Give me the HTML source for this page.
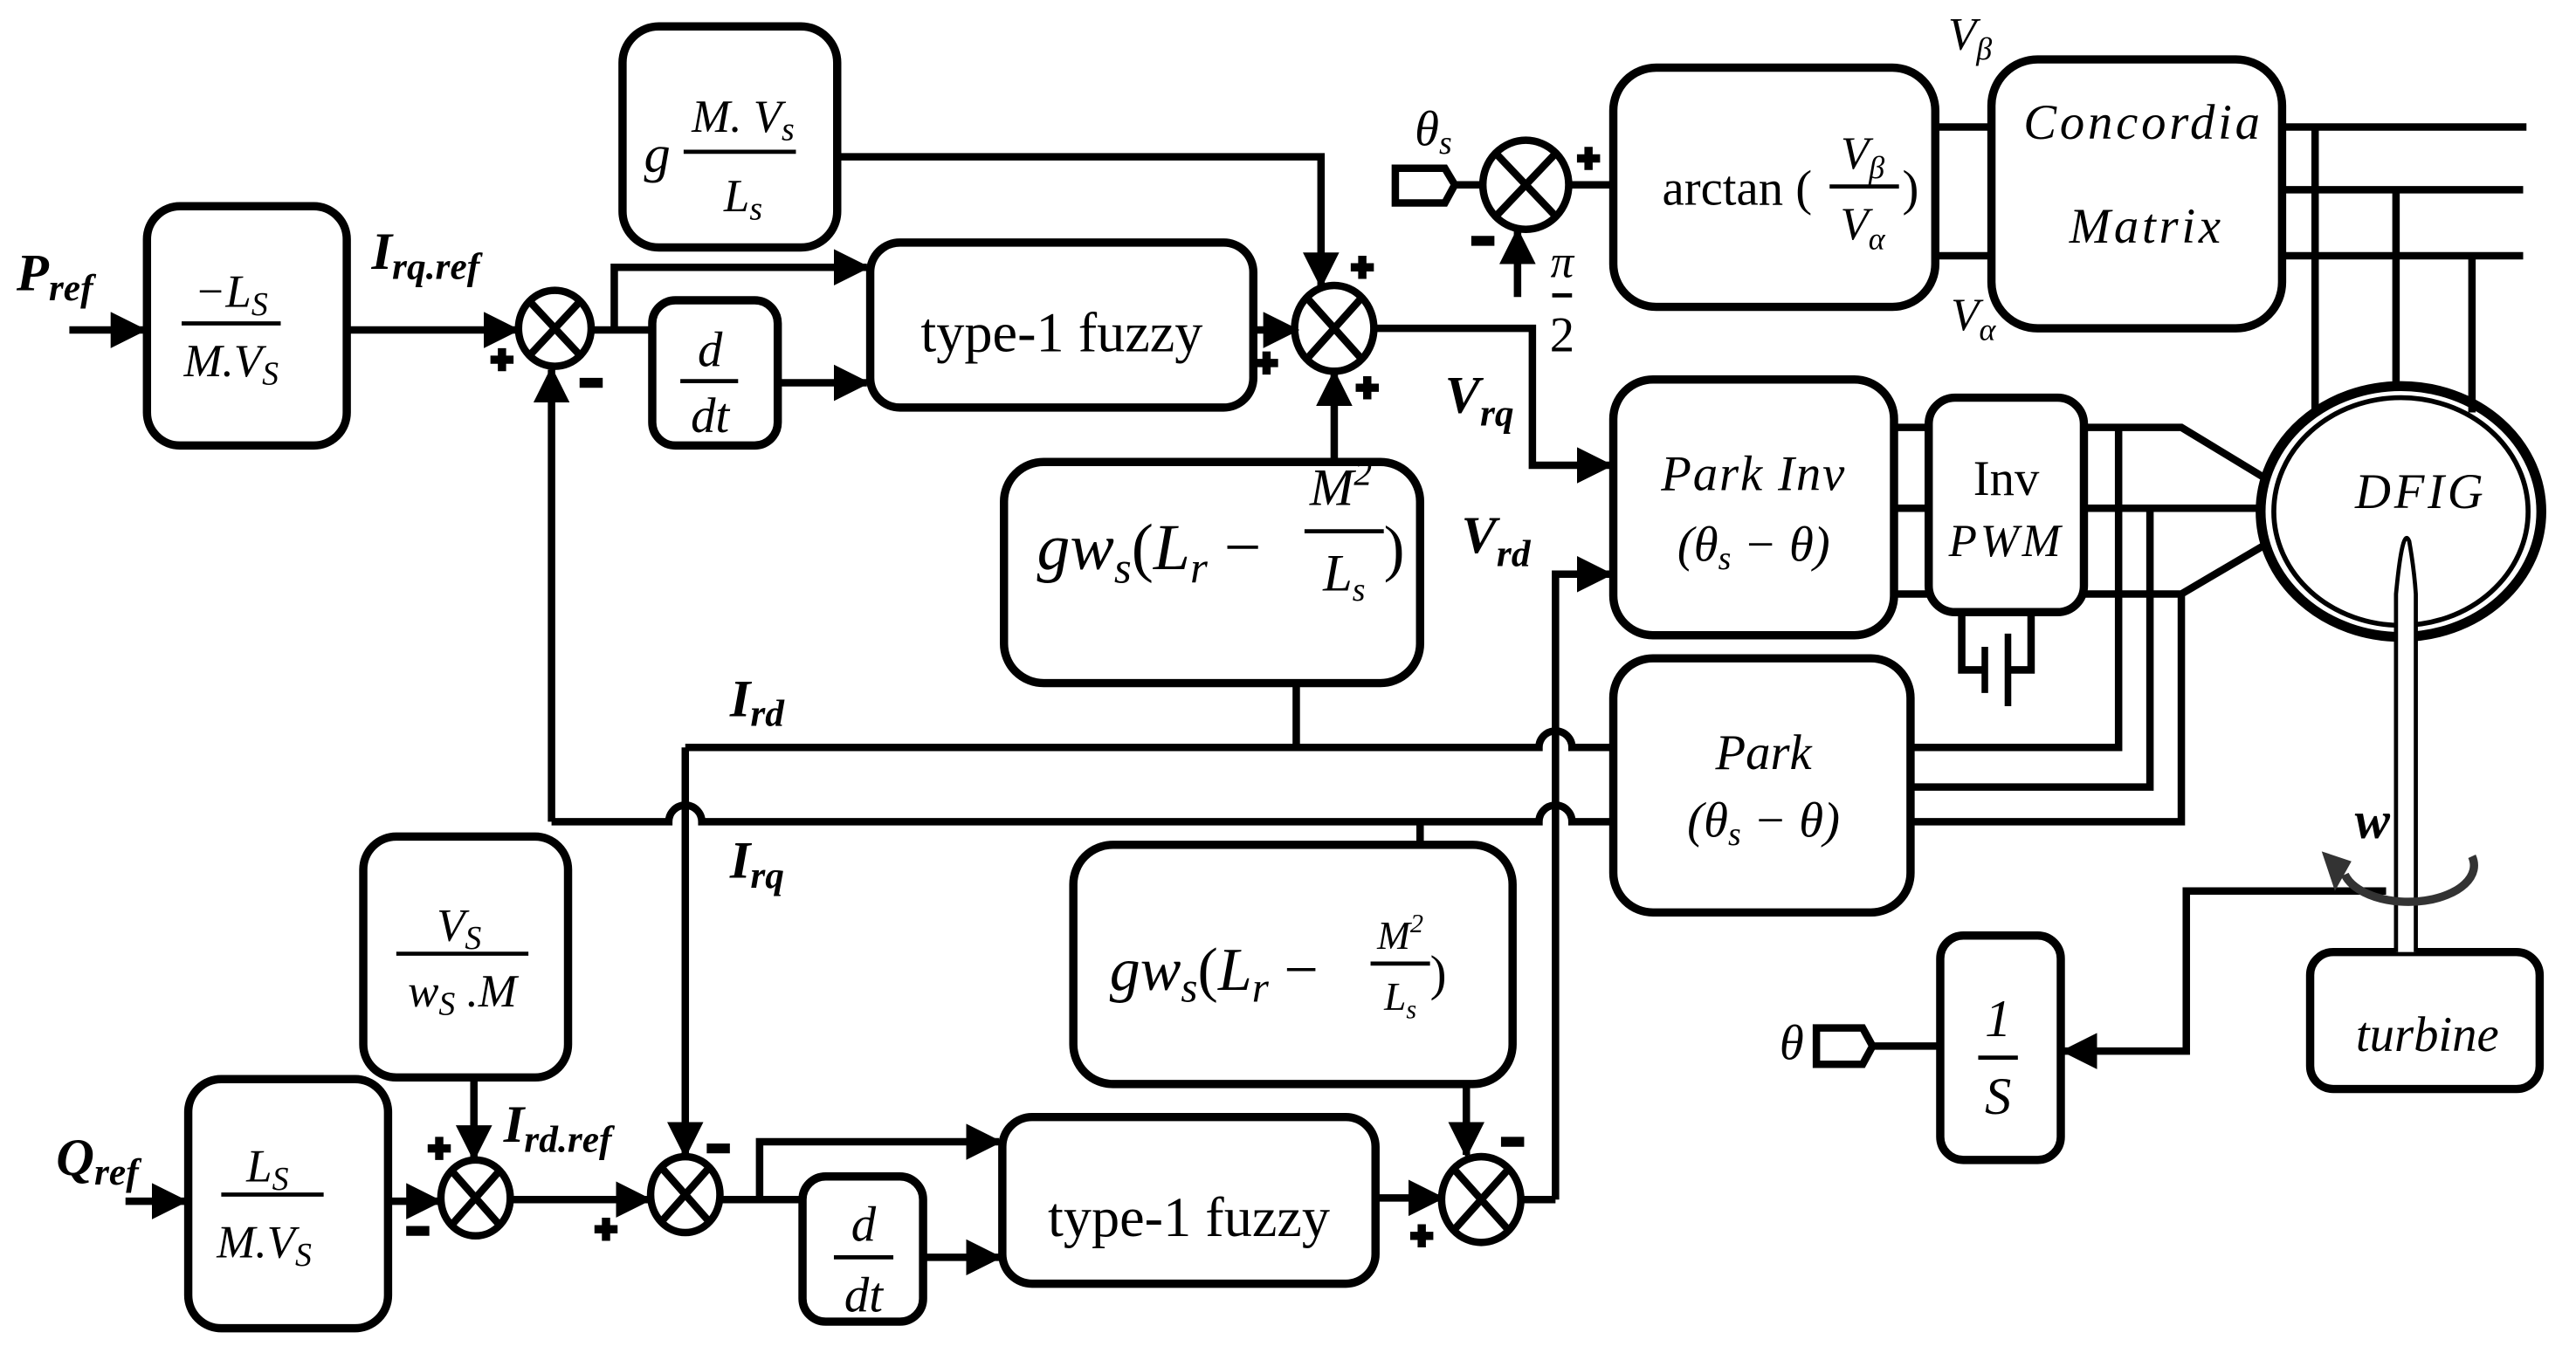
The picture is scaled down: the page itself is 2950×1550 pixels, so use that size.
<!DOCTYPE html>
<html><head><meta charset="utf-8"><style>
html,body{margin:0;padding:0;background:#fff}
svg{display:block}
text{font-family:"Liberation Serif",serif;fill:#000}
.i{font-style:italic}
.b{font-weight:bold;font-style:italic}
</style></head><body>
<svg width="2950" height="1550" viewBox="0 0 1560 820" preserveAspectRatio="none" xmlns="http://www.w3.org/2000/svg">
<defs>
<marker id="a" markerUnits="userSpaceOnUse" markerWidth="22" markerHeight="22" refX="20" refY="11" orient="auto">
<path d="M0,0 L22,11 L0,22 Z" fill="#000"/></marker>
</defs>
<g fill="none" stroke="#000" stroke-width="5">
<rect x="89" y="125" width="121" height="145" rx="20"/>
<rect x="377" y="16" width="130" height="134" rx="22"/>
<rect x="395" y="182" width="76" height="88" rx="14"/>
<rect x="527" y="147" width="232" height="100" rx="18"/>
<rect x="608" y="280" width="252" height="134" rx="24"/>
<rect x="977" y="41" width="195" height="145" rx="26"/>
<rect x="1206" y="36" width="176" height="163" rx="28"/>
<rect x="977" y="230" width="170" height="155" rx="24"/>
<rect x="1168" y="241" width="94" height="130" rx="16"/>
<rect x="977" y="399" width="180" height="154" rx="24"/>
<rect x="220" y="507" width="124" height="146" rx="20"/>
<rect x="650" y="512" width="266" height="145" rx="24"/>
<rect x="114" y="654" width="121" height="151" rx="20"/>
<rect x="486" y="713" width="73" height="88" rx="14"/>
<rect x="607" y="677" width="226" height="101" rx="18"/>
<rect x="1175" y="567" width="73" height="136" rx="14"/>
<rect x="1399" y="577" width="139" height="83" rx="14"/>
</g>
<g fill="none" stroke="#000" stroke-width="4.5">
<ellipse cx="336" cy="199" rx="22" ry="23"/>
<ellipse cx="808" cy="199" rx="24" ry="26"/>
<ellipse cx="924" cy="112" rx="26" ry="27"/>
<ellipse cx="288" cy="726" rx="21" ry="23"/>
<ellipse cx="415" cy="724" rx="21" ry="23"/>
<ellipse cx="897" cy="727" rx="24" ry="26"/>
<path d="M322,184L350,214M350,184L322,214"/>
<path d="M791,180L825,218M825,180L791,218"/>
<path d="M905,92L943,132M943,92L905,132"/>
<path d="M273,709L303,743M303,709L273,743"/>
<path d="M400,707L430,741M430,707L400,741"/>
<path d="M880,708L914,746M914,708L880,746"/>
<path d="M42,200H87" marker-end="url(#a)"/>
<path d="M210,200H313" marker-end="url(#a)"/>
<path d="M358,200H395"/>
<path d="M372,200V162H525" marker-end="url(#a)"/>
<path d="M471,232H525" marker-end="url(#a)"/>
<path d="M759,200H785" marker-end="url(#a)"/>
<path d="M507,95H800V173" marker-end="url(#a)"/>
<path d="M808,280V226" marker-end="url(#a)"/>
<path d="M832,199H928V282H975" marker-end="url(#a)"/>
<path d="M919,180V140" marker-end="url(#a)"/>
<path d="M881,112H898"/>
<path d="M950,112H977"/>
<path d="M334,498V224" marker-end="url(#a)"/>
<path d="M334,498H405A10,10 0 0 1 425,498H932A10,10 0 0 1 952,498H977"/>
<path d="M415,453H932A10,10 0 0 1 952,453H977"/>
<path d="M415,453V700" marker-end="url(#a)"/>
<path d="M785,414V453"/>
<path d="M860,498V512"/>
<path d="M942,727V348H975" marker-end="url(#a)"/>
<path d="M76,728H112" marker-end="url(#a)"/>
<path d="M235,728H266" marker-end="url(#a)"/>
<path d="M287,653V702" marker-end="url(#a)"/>
<path d="M309,727H393" marker-end="url(#a)"/>
<path d="M436,727H486"/>
<path d="M460,727V692H605" marker-end="url(#a)"/>
<path d="M559,762H605" marker-end="url(#a)"/>
<path d="M833,726H873" marker-end="url(#a)"/>
<path d="M888,657V700" marker-end="url(#a)"/>
<path d="M921,727H942"/>
<path d="M1172,77H1206M1172,155H1206"/>
<path d="M1382,77H1530M1382,115H1528M1382,155H1528"/>
<path d="M1402,77V248M1451,115V236M1497,155V250"/>
<path d="M1147,259H1168M1147,308H1168M1147,360H1168"/>
<path d="M1262,259H1321L1372,290M1262,308H1370M1262,360H1321L1372,330"/>
<path d="M1283,259V453H1157M1302,308V477H1157M1321,360V498H1157"/>
<path d="M1188,371V406H1202M1230,371V406H1216"/>
<path d="M1445,540H1324V637H1250" marker-end="url(#a)"/>
<path d="M1175,634H1134"/>
</g>
<g stroke="#000" fill="none">
<path d="M1202,392V420M1216,384V428" stroke-width="4"/>
<ellipse cx="1454" cy="310" rx="85" ry="76" stroke-width="6"/>
<ellipse cx="1454" cy="310" rx="77" ry="69" stroke-width="3"/>
<path d="M1451,577V360Q1455,318 1459,328Q1462,345 1463,360V577" stroke-width="2.5" fill="#fff"/>
<path d="M1497,519A36,20 0 0 1 1420,530" stroke="#333" stroke-width="5"/>
</g>
<path d="M1406,516L1424,522L1414,540Z" fill="#333"/>
<path d="M845,102H875L881,112L875,123H845Z" fill="none" stroke="#000" stroke-width="4.5"/>
<path d="M1100,623H1128L1134,634L1128,645H1100Z" fill="none" stroke="#000" stroke-width="4.5"/>
<g stroke="#000" stroke-width="2.5">
<path d="M110,196H170M414,92H482M412,231H447M790,322H838M1108,113H1150M240,578H320M134,724H196M505,762H541M1198,641H1222M830,584H866M940,179H952"/>
</g>
<g stroke="#000" stroke-width="5" fill="none">
<path d="M297,218h14M304,211v14"/>
<path d="M818,162h14M825,155v14"/>
<path d="M760,220h14M767,213v14"/>
<path d="M821,235h14M828,228v14"/>
<path d="M955,96h14M962,89v14"/>
<path d="M259,696h14M266,689v14"/>
<path d="M360,745h14M367,738v14"/>
<path d="M854,749h14M861,742v14"/>
<path d="M351,232h14M891,146h14M246,746h14M428,696h14M909,692h14" stroke-width="6"/>
</g>
<g font-size="32">
<text x="10" y="176" class="b">P<tspan font-size="23" dy="6">ref</tspan></text>
<text x="225" y="163" class="b">I<tspan font-size="23" dy="6">rq.ref</tspan></text>
<text x="442" y="434" class="b">I<tspan font-size="23" dy="6">rd</tspan></text>
<text x="442" y="532" class="b">I<tspan font-size="23" dy="6">rq</tspan></text>
<text x="875" y="250" class="b">V<tspan font-size="23" dy="8">rq</tspan></text>
<text x="885" y="335" class="b">V<tspan font-size="23" dy="8">rd</tspan></text>
<text x="34" y="712" class="b">Q<tspan font-size="23" dy="6">ref</tspan></text>
<text x="305" y="692" class="b">I<tspan font-size="23" dy="6">rd.ref</tspan></text>
<text x="1426" y="508" class="b">w</text>
</g>
<g font-size="28" class="i" text-anchor="middle">
<text x="140" y="186">−L<tspan font-size="20" dy="5">S</tspan></text>
<text x="140" y="228">M.V<tspan font-size="20" dy="5">S</tspan></text>
<text x="450" y="80">M. V<tspan font-size="20" dy="5">s</tspan></text>
<text x="450" y="128">L<tspan font-size="20" dy="5">s</tspan></text>
<text x="398" y="104" font-size="32">g</text>
<text x="430" y="222" font-size="30">d</text>
<text x="430" y="262" font-size="30">dt</text>
<text x="278" y="570">V<tspan font-size="20" dy="5">S</tspan></text>
<text x="280" y="610">w<tspan font-size="20" dy="5">S</tspan><tspan dy="-5"> .M</tspan></text>
<text x="162" y="716">L<tspan font-size="20" dy="5">S</tspan></text>
<text x="160" y="762">M.V<tspan font-size="20" dy="5">S</tspan></text>
<text x="523" y="752" font-size="30">d</text>
<text x="523" y="795" font-size="30">dt</text>
<text x="1210" y="628" font-size="32">1</text>
<text x="1210" y="675" font-size="32">S</text>
<text x="1470" y="637" font-size="30">turbine</text>
<text x="1298" y="84" font-size="30" letter-spacing="2">Concordia</text>
<text x="1300" y="147" font-size="30" letter-spacing="2">Matrix</text>
<text x="1062" y="297" font-size="30" letter-spacing="1">Park Inv</text>
<text x="1062" y="340" font-size="30">(θ<tspan font-size="20" dy="5">s</tspan><tspan dy="-5"> − θ)</tspan></text>
<text x="1215" y="300" font-size="30" font-style="normal">Inv</text>
<text x="1215" y="337" font-size="28" letter-spacing="2">PWM</text>
<text x="1068" y="466" font-size="30">Park</text>
<text x="1068" y="507" font-size="30">(θ<tspan font-size="20" dy="5">s</tspan><tspan dy="-5"> − θ)</tspan></text>
<text x="1466" y="308" font-size="30" letter-spacing="2">DFIG</text>
<text x="1128" y="102" font-size="28">V<tspan font-size="19" dy="6">β</tspan></text>
<text x="1128" y="145" font-size="28">V<tspan font-size="19" dy="6">α</tspan></text>
<text x="1085" y="642" font-size="30">θ</text>
<text x="868" y="88" font-size="30">θ<tspan font-size="20" dy="5">s</tspan></text>
<text x="946" y="168" font-size="28">π</text>
<text x="1193" y="30" font-size="28">V<tspan font-size="19" dy="6">β</tspan></text>
<text x="1195" y="200" font-size="28">V<tspan font-size="19" dy="6">α</tspan></text>
<text x="812" y="306" font-size="32">M<tspan font-size="22" dy="-12">2</tspan></text>
<text x="814" y="358" font-size="32">L<tspan font-size="20" dy="6">s</tspan></text>
<text x="848" y="575" font-size="24">M<tspan font-size="16" dy="-10">2</tspan></text>
<text x="848" y="612" font-size="24">L<tspan font-size="16" dy="5">s</tspan></text>
</g>
<g font-size="32" text-anchor="middle">
<text x="946" y="213" font-size="30">2</text>
<text x="643" y="213" font-size="34">type-1 fuzzy</text>
<text x="720" y="749" font-size="34">type-1 fuzzy</text>
<text x="1052" y="124" font-size="30">arctan (</text>
<text x="1157" y="124" font-size="30">)</text>
</g>
<g class="i">
<text x="628" y="345" font-size="40">gw<tspan font-size="27" dy="8">s</tspan><tspan dy="-8" font-style="normal">(</tspan><tspan>L</tspan><tspan font-size="27" dy="8">r</tspan><tspan dy="-8" font-style="normal"> −</tspan></text>
<text x="838" y="345" font-style="normal" font-size="38">)</text>
<text x="672" y="600" font-size="37">gw<tspan font-size="26" dy="7">s</tspan><tspan dy="-7" font-style="normal">(</tspan><tspan>L</tspan><tspan font-size="26" dy="7">r</tspan><tspan dy="-7" font-style="normal"> −</tspan></text>
<text x="866" y="600" font-style="normal" font-size="30">)</text>
</g>
</svg>
</body></html>
